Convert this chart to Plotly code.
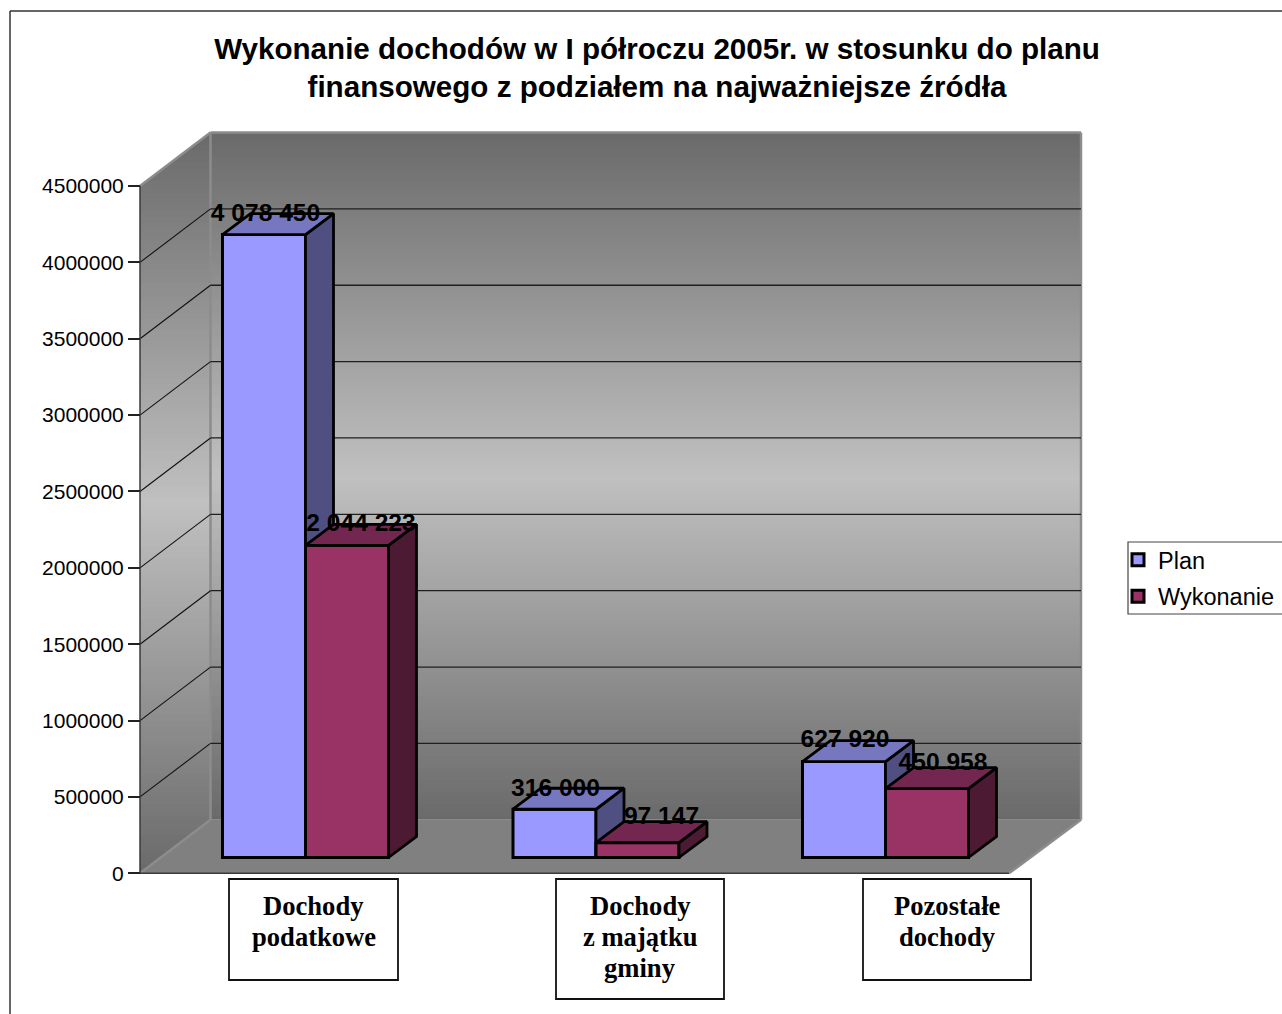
import plotly.graph_objects as go

# ---- data ----
categories = [["Dochody", "podatkowe"], ["Dochody", "z majątku", "gminy"], ["Pozostałe", "dochody"]]
series_names = ["Plan", "Wykonanie"]
plan_values = [4078450, 316000, 627920]
wykonanie_values = [2044223, 97147, 450958]
y_ticks = [0, 500000, 1000000, 1500000, 2000000, 2500000, 3000000, 3500000, 4000000, 4500000]
title_text = "Wykonanie dochodów w I półroczu 2005r. w stosunku do planu<br>finansowego z podziałem na najważniejsze źródła"

# ---- layout geometry (page pixels) ----
W, H = 1282, 1014
Y0_PX, YMAX_PX = 873.3, 186.0
PPV = (Y0_PX - YMAX_PX) / 4500000
WALL_L, WALL_R, FLOOR_R = 140, 1081, 1009
DX, DY = 70.5, 53.5
BAR_DX, BAR_DY = 28, 21
BAR_W = 83
BAR_FLOOR_PX = 857.5
GROUP_LEFT = [222.5, 513, 802.5]
PLAN_LABEL_DX = [1.5, 1, 1]
PLAN_LABEL_DY = [20, 19.5, 21]
WYK_LABEL_DX = [14, 24, 16]
WYK_LABEL_DY = [20, 25, 24.5]
BOXES = [(229, 398, 879, 980), (556, 724, 879, 999), (863, 1031, 879, 980)]
BOX_CX = [313.5, 640, 947]
LINE_Y = [906, 936.5, 968]
PLAN_C = ("#9999ff", "#4f4f82", "#7777bf")
WYK_C = ("#993366", "#4d1a33", "#732650")


def val(py):
    """pixel row -> value on the y axis"""
    return (Y0_PX - py) / PPV


def grey(py, top, bottom):
    t = (py - top) / (bottom - top)
    t = abs(2 * t - 1)
    g = int(round(0xc0 + (0x6a - 0xc0) * t))
    return f"rgb({g},{g},{g})"


def poly(pts):
    return "M" + "L".join(f"{x},{val(y)}" for x, y in pts) + "Z"


shapes = []
BACK_TOP, BACK_BOT = YMAX_PX - DY, Y0_PX - DY
STEP = 6
# back wall gradient
py = BACK_TOP
while py < BACK_BOT:
    end = min(py + STEP + 1, BACK_BOT)
    shapes.append(dict(type="path", layer="below", xref="x", yref="y", line_width=0,
                       fillcolor=grey(py + STEP / 2, BACK_TOP, BACK_BOT),
                       path=poly([(WALL_L + DX, py), (WALL_R, py), (WALL_R, end), (WALL_L + DX, end)])))
    py += STEP


# left wall gradient (horizontal bands clipped to the parallelogram)
def left_edge(p):
    return WALL_L if p >= YMAX_PX else WALL_L + DX - (p - BACK_TOP) * DX / DY


def right_edge(p):
    return WALL_L + DX if p <= BACK_BOT else WALL_L + DX - (p - BACK_BOT) * DX / DY


py = BACK_TOP
while py < Y0_PX:
    end = min(py + STEP + 1, Y0_PX)
    pts = [(left_edge(py), py), (right_edge(py), py)]
    if py < BACK_BOT < end:
        pts.append((WALL_L + DX, BACK_BOT))
    pts += [(right_edge(end), end), (left_edge(end), end)]
    if py < YMAX_PX < end:
        pts.append((WALL_L, YMAX_PX))
    shapes.append(dict(type="path", layer="below", xref="x", yref="y", line_width=0,
                       fillcolor=grey(py + STEP / 2, BACK_TOP, Y0_PX), path=poly(pts)))
    py += STEP

# floor
shapes.append(dict(type="path", layer="below", xref="x", yref="y", line_width=0, fillcolor="#808080",
                   path=poly([(WALL_L, Y0_PX), (FLOOR_R, Y0_PX), (WALL_R, BACK_BOT), (WALL_L + DX, BACK_BOT)])))

# wall edges
edge = dict(color="#8c8c8c", width=2.5)
for (a, b) in [((WALL_L, YMAX_PX), (WALL_L + DX, BACK_TOP)), ((WALL_L + DX, BACK_TOP), (WALL_R, BACK_TOP)),
               ((WALL_L + DX, BACK_TOP), (WALL_L + DX, BACK_BOT)), ((WALL_R, BACK_TOP), (WALL_R, BACK_BOT)),
               ((WALL_L + DX, BACK_BOT), (WALL_L, Y0_PX)), ((FLOOR_R, Y0_PX), (WALL_R, BACK_BOT))]:
    shapes.append(dict(type="line", layer="below", xref="x", yref="y", line=edge,
                       x0=a[0], y0=val(a[1]), x1=b[0], y1=val(b[1])))

# gridlines from the tick values
for v in y_ticks[1:-1]:
    back_y = v + val(Y0_PX - DY)
    shapes.append(dict(type="line", layer="below", xref="x", yref="y", line=dict(color="#1f1f1f", width=1.3),
                       x0=WALL_L + DX, x1=WALL_R, y0=back_y, y1=back_y))
    shapes.append(dict(type="line", layer="below", xref="x", yref="y", line=dict(color="#111111", width=1.1),
                       x0=WALL_L, x1=WALL_L + DX, y0=v, y1=back_y))

# axis lines
shapes.append(dict(type="line", layer="below", xref="x", yref="y", line=dict(color="#3a3a3a", width=1.5),
                   x0=WALL_L, x1=WALL_L, y0=0, y1=4500000))
shapes.append(dict(type="line", layer="below", xref="x", yref="y", line=dict(color="#3a3a3a", width=1.5),
                   x0=WALL_L, x1=FLOOR_R, y0=0, y1=0))


def px_x(x):
    return x / W


def px_y(y):
    return 1 - y / H


# outer chart frame
frame = dict(type="line", xref="paper", yref="paper", line=dict(color="#333333", width=1.5))
shapes.append({**frame, "x0": px_x(10), "x1": 1, "y0": px_y(11), "y1": px_y(11)})
shapes.append({**frame, "x0": px_x(10), "x1": px_x(10), "y0": px_y(11), "y1": 0})
# legend frame
shapes.append(dict(type="rect", xref="paper", yref="paper", line=dict(color="#444444", width=1.2),
                   x0=px_x(1128), x1=px_x(1290), y0=px_y(542), y1=px_y(614)))
# category boxes
for (l, r, t, b) in BOXES:
    shapes.append(dict(type="rect", xref="paper", yref="paper", line=dict(color="#111111", width=1.8),
                       x0=px_x(l), x1=px_x(r), y0=px_y(t), y1=px_y(b)))

annotations = []
for lines, cx in zip(categories, BOX_CX):
    for line, ly in zip(lines, LINE_Y):
        annotations.append(dict(xref="paper", yref="paper", x=px_x(cx), y=px_y(ly), text=f"<b>{line}</b>",
                                showarrow=False, xanchor="center", yanchor="middle",
                                font=dict(family="Liberation Serif", size=26.6, color="black")))

fig = go.Figure()
base = val(BAR_FLOOR_PX)
dyv = BAR_DY / PPV


def add_series(name, values, lefts, colors, xa, ya):
    front, side, top = colors
    fig.add_trace(go.Bar(name=name, legendgroup=name, x=[l + BAR_W / 2 for l in lefts], y=values,
                         base=[base] * len(values), width=BAR_W,
                         marker=dict(color=front, line=dict(color="black", width=3)),
                         xaxis=xa, yaxis=ya, hoverinfo="skip"))
    for l, v in zip(lefts, values):
        r = l + BAR_W
        t = base + v
        fig.add_trace(go.Scatter(x=[r, r + BAR_DX, r + BAR_DX, r, r], y=[base, base + dyv, t + dyv, t, base],
                                 mode="lines", fill="toself", fillcolor=side,
                                 line=dict(color="black", width=2.8), showlegend=False,
                                 xaxis=xa, yaxis=ya, hoverinfo="skip"))
        fig.add_trace(go.Scatter(x=[l, l + BAR_DX, r + BAR_DX, r, l], y=[t, t + dyv, t + dyv, t, t],
                                 mode="lines", fill="toself", fillcolor=top,
                                 line=dict(color="black", width=2.8), showlegend=False,
                                 xaxis=xa, yaxis=ya, hoverinfo="skip"))


add_series(series_names[0], plan_values, GROUP_LEFT, PLAN_C, "x", "y")
wyk_left = [l + BAR_W for l in GROUP_LEFT]
add_series(series_names[1], wykonanie_values, wyk_left, WYK_C, "x2", "y2")


def fmt(v):
    return f"{v:,}".replace(",", " ")


label_x = [l + BAR_W / 2 + d for l, d in zip(GROUP_LEFT, PLAN_LABEL_DX)] + \
          [l + BAR_W / 2 + d for l, d in zip(wyk_left, WYK_LABEL_DX)]
label_y = [base + v + d / PPV for v, d in zip(plan_values, PLAN_LABEL_DY)] + \
          [base + v + d / PPV for v, d in zip(wykonanie_values, WYK_LABEL_DY)]
label_t = [fmt(v) for v in plan_values + wykonanie_values]
fig.add_trace(go.Scatter(x=label_x, y=label_y, text=label_t, mode="text", textposition="middle center",
                         textfont=dict(family="Liberation Sans", size=24.6, color="black", weight="bold"),
                         showlegend=False, xaxis="x2", yaxis="y2", hoverinfo="skip"))

yrange = [val(H), val(0)]
fig.update_layout(
    width=W, height=H, autosize=False,
    margin=dict(l=0, r=0, t=0, b=0, pad=0),
    paper_bgcolor="white", plot_bgcolor="rgba(0,0,0,0)",
    barmode="overlay",
    font=dict(family="Liberation Sans", color="black"),
    title=dict(text=f"<b>{title_text}</b>", x=657 / W, xanchor="center", y=1 - 59 / H, yanchor="top",
               font=dict(family="Liberation Sans", size=29.6, color="black")),
    xaxis=dict(range=[0, W], visible=False, fixedrange=True),
    xaxis2=dict(range=[0, W], visible=False, overlaying="x", fixedrange=True),
    yaxis=dict(range=yrange, anchor="free", position=WALL_L / W, tickvals=y_ticks,
               ticktext=[str(v) for v in y_ticks], ticks="outside", ticklen=12, tickwidth=1.5,
               tickcolor="#222222", showgrid=False, zeroline=False, showline=False,
               tickfont=dict(family="Liberation Sans", size=21, color="black"), fixedrange=True),
    yaxis2=dict(range=yrange, visible=False, overlaying="y", fixedrange=True),
    legend=dict(x=1118 / W, y=px_y(538), xanchor="left", yanchor="top", bgcolor="rgba(0,0,0,0)", borderwidth=0,
                traceorder="grouped", tracegroupgap=3,
                font=dict(family="Liberation Sans", size=23.5, color="black")),
    shapes=shapes, annotations=annotations,
)
fig.write_html("out.html", post_script="document.body.style.margin='0';document.body.style.overflow='hidden';",
               config=dict(displayModeBar=False))
